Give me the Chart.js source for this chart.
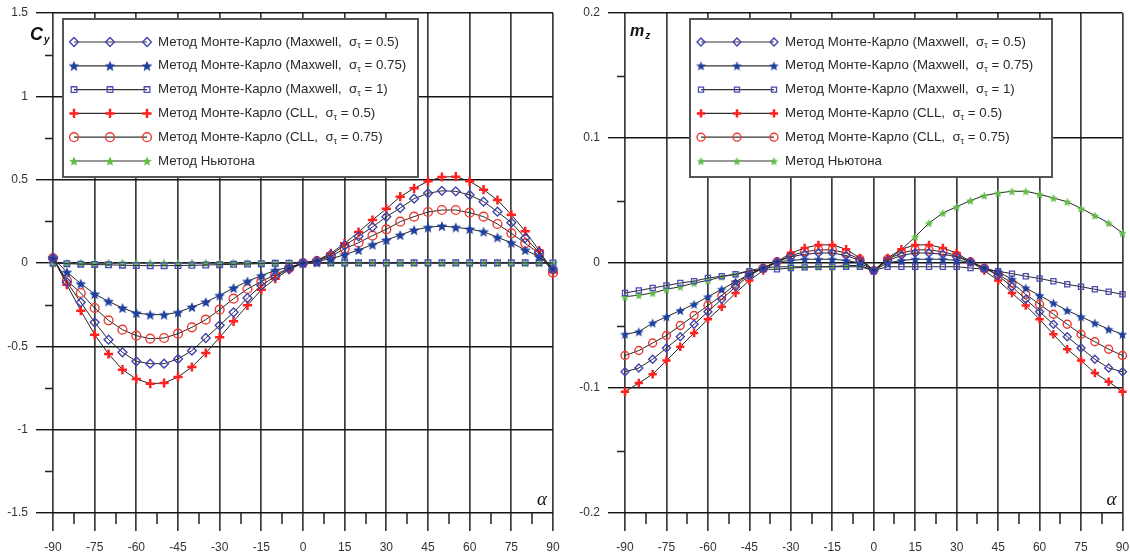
<!DOCTYPE html>
<html>
<head>
<meta charset="utf-8">
<script src="https://cdn.jsdelivr.net/npm/chart.js@4"></script>
<style>
  body { margin: 0; background: #fff; width: 1130px; height: 556px; overflow: hidden; position: relative; }
  .panel { position: absolute; top: 0; width: 565px; height: 556px; }
</style>
</head>
<body>
<div class="panel" style="left:0"><canvas id="cyChart" width="565" height="556"></canvas></div>
<div class="panel" style="left:565px"><canvas id="mzChart" width="565" height="556"></canvas></div>
<script>
// угол атаки, град
const alpha = [-90, -85, -80, -75, -70, -65, -60, -55, -50, -45, -40, -35, -30, -25, -20, -15, -10, -5, 0,
               5, 10, 15, 20, 25, 30, 35, 40, 45, 50, 55, 60, 65, 70, 75, 80, 85, 90];

const alphaTicks = [-90, -75, -60, -45, -30, -15, 0, 15, 30, 45, 60, 75, 90];
const cyTicks = [-1.5, -1, -0.5, 0, 0.5, 1, 1.5];
const mzTicks = [-0.2, -0.1, 0, 0.1, 0.2];

const legendLabels = [
    'Метод Монте-Карло (Maxwell,  σ_τ = 0.5)',
    'Метод Монте-Карло (Maxwell,  σ_τ = 0.75)',
    'Метод Монте-Карло (Maxwell,  σ_τ = 1)',
    'Метод Монте-Карло (CLL,  σ_τ = 0.5)',
    'Метод Монте-Карло (CLL,  σ_τ = 0.75)',
    'Метод Ньютона'
];

// Cy
const cyMaxwell05 = [0.03, -0.115, -0.236, -0.356, -0.46, -0.536, -0.59, -0.604, -0.604, -0.576, -0.526, -0.45, -0.374, -0.296, -0.21, -0.135, -0.08, -0.035, 0,
    0.013, 0.05, 0.105, 0.16, 0.216, 0.277, 0.33, 0.386, 0.418, 0.433, 0.43, 0.408, 0.368, 0.308, 0.242, 0.15, 0.065, -0.04];
const cyMaxwell075 = [0.03, -0.055, -0.124, -0.186, -0.23, -0.27, -0.3, -0.31, -0.31, -0.296, -0.264, -0.234, -0.194, -0.15, -0.11, -0.076, -0.044, -0.025, 0,
    0.01, 0.025, 0.05, 0.078, 0.11, 0.138, 0.168, 0.198, 0.214, 0.222, 0.214, 0.204, 0.188, 0.154, 0.122, 0.078, 0.038, -0.032];
const cyMaxwell1 = [0, -0.004, -0.007, -0.009, -0.011, -0.013, -0.015, -0.016, -0.016, -0.015, -0.014, -0.012, -0.01, -0.008, -0.006, -0.004, -0.002, -0.001, 0,
    0, 0.001, 0.001, 0.001, 0.001, 0.001, 0.001, 0.001, 0.001, 0.001, 0.001, 0.001, 0.001, 0.001, 0.001, 0.001, 0.001, 0];
const cyCll05 = [0.03, -0.13, -0.286, -0.43, -0.546, -0.64, -0.696, -0.724, -0.72, -0.684, -0.624, -0.54, -0.446, -0.35, -0.254, -0.16, -0.094, -0.04, 0,
    0.015, 0.058, 0.118, 0.186, 0.258, 0.325, 0.398, 0.448, 0.49, 0.516, 0.518, 0.49, 0.44, 0.378, 0.29, 0.19, 0.075, -0.055];
const cyCll075 = [0.03, -0.105, -0.18, -0.27, -0.344, -0.4, -0.436, -0.454, -0.45, -0.424, -0.386, -0.34, -0.28, -0.214, -0.156, -0.11, -0.07, -0.03, 0,
    0.012, 0.04, 0.085, 0.122, 0.164, 0.202, 0.248, 0.278, 0.306, 0.318, 0.318, 0.302, 0.278, 0.234, 0.178, 0.118, 0.058, -0.058];
const cyNewton = [0, 0, 0, 0, 0, 0, 0, 0, 0, 0, 0, 0, 0, 0, 0, 0, 0, 0, 0,
    0, 0, 0, 0, 0, 0, 0, 0, 0, 0, 0, 0, 0, 0, 0, 0, 0, 0];

// mz
const mzMaxwell05 = [-0.087, -0.084, -0.077, -0.068, -0.059, -0.049, -0.039, -0.029, -0.019, -0.01, -0.004, 0.001, 0.005, 0.007, 0.008, 0.008, 0.006, 0.002, -0.006,
    0.002, 0.006, 0.008, 0.008, 0.007, 0.005, 0.001, -0.004, -0.01, -0.019, -0.029, -0.039, -0.049, -0.059, -0.068, -0.077, -0.084, -0.087];
const mzMaxwell075 = [-0.057, -0.055, -0.048, -0.043, -0.038, -0.033, -0.027, -0.021, -0.015, -0.009, -0.004, 0.001, 0.002, 0.003, 0.003, 0.003, 0.002, 0, -0.006,
    0, 0.002, 0.003, 0.003, 0.003, 0.002, 0.001, -0.004, -0.007, -0.013, -0.02, -0.026, -0.032, -0.038, -0.043, -0.048, -0.053, -0.057];
const mzMaxwell1 = [-0.024, -0.022, -0.02, -0.018, -0.016, -0.0145, -0.012, -0.0106, -0.009, -0.0066, -0.005, -0.005, -0.004, -0.0035, -0.003, -0.003, -0.003, -0.003, -0.006,
    -0.003, -0.003, -0.003, -0.003, -0.003, -0.003, -0.004, -0.005, -0.0066, -0.0085, -0.0106, -0.0124, -0.0146, -0.017, -0.019, -0.021, -0.023, -0.025];
const mzCll05 = [-0.103, -0.096, -0.089, -0.078, -0.067, -0.056, -0.045, -0.035, -0.024, -0.014, -0.006, 0.001, 0.008, 0.012, 0.0145, 0.0145, 0.011, 0.004, -0.006,
    0.004, 0.011, 0.0145, 0.0145, 0.012, 0.008, 0.001, -0.006, -0.014, -0.024, -0.034, -0.045, -0.057, -0.069, -0.078, -0.088, -0.095, -0.103];
const mzCll075 = [-0.074, -0.07, -0.064, -0.058, -0.05, -0.042, -0.034, -0.026, -0.017, -0.009, -0.004, 0.001, 0.006, 0.009, 0.0105, 0.0105, 0.008, 0.003, -0.006,
    0.003, 0.008, 0.0105, 0.0105, 0.009, 0.006, 0.001, -0.004, -0.009, -0.016, -0.025, -0.033, -0.041, -0.049, -0.057, -0.063, -0.069, -0.074];
const mzNewton = [-0.027, -0.0257, -0.024, -0.021, -0.019, -0.016, -0.014, -0.011, -0.009, -0.006, -0.004, -0.003, -0.003, -0.003, -0.003, -0.003, -0.002, -0.002, -0.006,
    0.0026, 0.0106, 0.021, 0.032, 0.04, 0.045, 0.05, 0.054, 0.056, 0.0574, 0.0574, 0.055, 0.052, 0.049, 0.0437, 0.038, 0.032, 0.024];

const tickFont = { family: "'Liberation Sans Narrow', 'Liberation Sans', Arial, sans-serif", size: 12 };
const legendFont = "13.3px 'Liberation Sans', Arial, sans-serif";

// закрашенная пятиконечная звезда как маркер
function starMarker(color, r) {
    const c = document.createElement('canvas');
    const s = Math.ceil(r * 2 + 2);
    c.width = s;
    c.height = s;
    const g = c.getContext('2d');
    g.fillStyle = color;
    g.beginPath();
    for (let i = 0; i < 10; i++) {
        const rr = i % 2 ? r * 0.45 : r;
        const a = -Math.PI / 2 + i * Math.PI / 5;
        g.lineTo(s / 2 + rr * Math.cos(a), s / 2 + 0.6 + rr * Math.sin(a));
    }
    g.closePath();
    g.fill();
    return c;
}

function makeDatasets(series, k) {
    const styles = [
        { pointStyle: 'rectRot', pointBorderColor: '#4444b0', pointBackgroundColor: 'rgba(0,0,0,0)', pointRadius: 4.4 * k, pointBorderWidth: 1.4 },
        { pointStyle: starMarker('#1f3f9f', 5.6 * k), pointBorderColor: '#1f3f9f', pointBackgroundColor: '#1f3f9f', pointRadius: 5.6 * k, pointBorderWidth: 0 },
        { pointStyle: 'rect', pointBorderColor: '#4a4ab8', pointBackgroundColor: 'rgba(0,0,0,0)', pointRadius: 4 * k, pointBorderWidth: 1.3 },
        { pointStyle: 'cross', pointBorderColor: '#ff2020', pointBackgroundColor: '#ff2020', pointRadius: 4.6 * k, pointBorderWidth: 2.5 },
        { pointStyle: 'circle', pointBorderColor: '#ec3a30', pointBackgroundColor: 'rgba(0,0,0,0)', pointRadius: 4.4 * k, pointBorderWidth: 1.4 },
        { pointStyle: starMarker('#62bd48', 5 * k), pointBorderColor: '#62bd48', pointBackgroundColor: '#62bd48', pointRadius: 5 * k, pointBorderWidth: 0 }
    ];
    return series.map((vals, i) => Object.assign({
        label: legendLabels[i].replace('_', ''),
        data: vals,
        borderColor: '#262626',
        borderWidth: 1,
        tension: 0,
        clip: false,
        pointHoverRadius: 5
    }, styles[i]));
}

function drawLabel(ctx, text, x, y) {
    const parts = text.split('_');
    ctx.fillStyle = '#2a2a2a';
    ctx.textBaseline = 'middle';
    ctx.textAlign = 'left';
    ctx.font = legendFont;
    ctx.fillText(parts[0], x, y);
    if (parts.length < 2) return;
    x += ctx.measureText(parts[0]).width;
    ctx.font = "9px 'Liberation Sans', Arial, sans-serif";
    ctx.fillText(parts[1][0], x, y + 4);
    x += ctx.measureText(parts[1][0]).width;
    ctx.font = legendFont;
    ctx.fillText(parts[1].slice(1), x, y);
}

// мелкие засечки, подписи осей и рамка легенды
const decorations = {
    id: 'decorations',
    afterDraw(chart, args, opts) {
        const ctx = chart.ctx;
        const a = chart.chartArea;
        const x = chart.scales.x;
        const y = chart.scales.y;
        ctx.save();

        ctx.strokeStyle = '#222';
        ctx.lineWidth = 1.5;
        ctx.beginPath();
        for (let i = 0; i < x.ticks.length - 1; i++) {
            const px = Math.round(x.getPixelForValue((x.ticks[i].value + x.ticks[i + 1].value) / 2));
            ctx.moveTo(px, a.bottom);
            ctx.lineTo(px, a.bottom + 11);
        }
        for (let i = 0; i < y.ticks.length - 1; i++) {
            const py = Math.round(y.getPixelForValue((y.ticks[i].value + y.ticks[i + 1].value) / 2)) + 0.5;
            ctx.moveTo(a.left - 8, py);
            ctx.lineTo(a.left, py);
        }
        ctx.stroke();

        // подпись оси Y
        ctx.fillStyle = '#111';
        ctx.textBaseline = 'alphabetic';
        ctx.textAlign = 'left';
        ctx.font = "italic bold " + opts.titleSize + "px 'Liberation Sans', Arial, sans-serif";
        ctx.fillText(opts.title, opts.titleX, opts.titleY);
        const tw = ctx.measureText(opts.title).width;
        ctx.font = "italic bold 10px 'Liberation Sans', Arial, sans-serif";
        ctx.fillText(opts.titleSub, opts.titleX + tw + 1, opts.titleY + 3);

        // подпись оси X
        ctx.font = "italic 19px 'Liberation Serif', serif";
        ctx.fillText('α', a.right - 16, a.bottom - 8);

        // легенда
        const bx = opts.box[0], by = opts.box[1], bw = opts.box[2], bh = opts.box[3];
        ctx.fillStyle = '#fff';
        ctx.fillRect(bx, by, bw, bh);
        ctx.strokeStyle = '#555';
        ctx.lineWidth = 2;
        ctx.strokeRect(bx, by, bw, bh);
        chart.data.datasets.forEach((ds, i) => {
            const yy = by + 23 + i * 23.8;
            ctx.strokeStyle = '#333';
            ctx.lineWidth = 1.2;
            ctx.beginPath();
            ctx.moveTo(bx + 11, yy);
            ctx.lineTo(bx + 84, yy);
            ctx.stroke();
            [11, 47, 84].forEach(dx => {
                ctx.strokeStyle = ds.pointBorderColor;
                ctx.fillStyle = ds.pointBackgroundColor;
                ctx.lineWidth = ds.pointBorderWidth;
                Chart.helpers.drawPoint(ctx, {
                    pointStyle: ds.pointStyle,
                    radius: ds.pointRadius,
                    rotation: 0,
                    borderWidth: ds.pointBorderWidth
                }, bx + dx, yy);
            });
            drawLabel(ctx, legendLabels[i], bx + 95, yy);
        });
        ctx.restore();
    }
};

function buildChart(id, series, yTicks, axisW, padRight, k, deco) {
    new Chart(document.getElementById(id), {
        type: 'line',
        data: { labels: alpha, datasets: makeDatasets(series, k) },
        plugins: [decorations],
        options: {
            responsive: false,
            animation: false,
            layout: { padding: { top: 13, right: padRight, bottom: 0, left: 0 } },
            plugins: {
                legend: { display: false },
                tooltip: { enabled: false },
                decorations: deco
            },
            scales: {
                x: {
                    type: 'linear',
                    min: alphaTicks[0],
                    max: alphaTicks[alphaTicks.length - 1],
                    afterBuildTicks: s => { s.ticks = alphaTicks.map(v => ({ value: v })); },
                    afterFit: s => { s.height = 43; s.paddingLeft = 0; s.paddingRight = 0; },
                    grid: { color: '#3c3c3c', lineWidth: 1.7, tickLength: 18, tickColor: '#3c3c3c' },
                    border: { display: false },
                    ticks: { font: tickFont, color: '#333', padding: 9, maxRotation: 0, autoSkip: false }
                },
                y: {
                    min: yTicks[0],
                    max: yTicks[yTicks.length - 1],
                    afterBuildTicks: s => { s.ticks = yTicks.map(v => ({ value: v })); },
                    afterFit: s => { s.width = axisW; s.paddingTop = 0; s.paddingBottom = 0; },
                    grid: { color: '#151515', lineWidth: 1.4, tickLength: 17, tickColor: '#151515' },
                    border: { display: false },
                    ticks: { font: tickFont, color: '#333', padding: 8, callback: v => String(+v.toFixed(2)) }
                }
            }
        }
    });
}

buildChart('cyChart',
    [cyMaxwell05, cyMaxwell075, cyMaxwell1, cyCll05, cyCll075, cyNewton],
    cyTicks, 53, 12, 1,
    { title: 'C', titleSub: 'y', titleSize: 18, titleX: 30, titleY: 40, box: [63, 19, 355, 158] });

buildChart('mzChart',
    [mzMaxwell05, mzMaxwell075, mzMaxwell1, mzCll05, mzCll075, mzNewton],
    mzTicks, 60, 5, 0.9,
    { title: 'm', titleSub: 'z', titleSize: 16, titleX: 65, titleY: 36, box: [125, 19, 362, 158] });
</script>
</body>
</html>
